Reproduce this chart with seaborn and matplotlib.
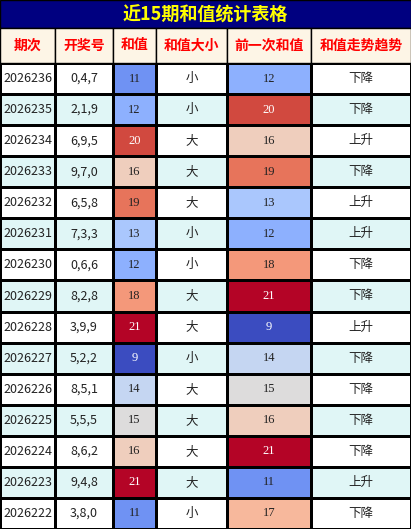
import matplotlib
matplotlib.use("Agg")
import matplotlib.pyplot as plt
import seaborn as sns
import numpy as np
import pandas as pd
from matplotlib.colors import ListedColormap
from matplotlib.patches import Rectangle

periods = ["2026236","2026235","2026234","2026233","2026232","2026231","2026230","2026229",
           "2026228","2026227","2026226","2026225","2026224","2026223","2026222"]
draws = ["0,4,7","2,1,9","6,9,5","9,7,0","6,5,8","7,3,3","0,6,6","8,2,8","3,9,9","5,2,2",
         "8,5,1","5,5,5","8,6,2","9,4,8","3,8,0"]
sums = [11,12,20,16,19,13,12,18,21,9,14,15,16,21,11]
sizes = ["小","小","大","大","大","小","小","大","大","小","大","大","大","大","小"]
prev_sums = [12,20,16,19,13,12,18,21,9,14,15,16,21,11,17]
trends = ["下降","下降","上升","下降","上升","上升","下降","下降","上升","下降","下降","下降","下降","上升","下降"]
headers = ["期次","开奖号","和值","和值大小","前一次和值","和值走势趋势"]
title = "近15期和值统计表格"

W, H = 411, 529
fig = plt.figure(figsize=(W/100, H/100), dpi=100)
cjk = ["Noto Sans CJK SC", "DejaVu Sans"]
edges = [0, 55, 113, 156, 227, 311, 411]
top_rows = 63
n = len(periods)
cols = [periods, draws, sums, sizes, prev_sums, trends]
parity = pd.DataFrame({"v": [i % 2 for i in range(n)]})
bg = ListedColormap(["white", "#E0F6F6"])

for ci in range(6):
    x0, x1 = edges[ci], edges[ci+1]
    ax = fig.add_axes([x0/W, 0, (x1-x0)/W, (H-top_rows)/H])
    sns.heatmap(parity, cmap=bg, cbar=False, ax=ax, vmin=0, vmax=1,
                linewidths=1, linecolor="black")
    if ci in (2, 4):
        vals = pd.DataFrame({"v": cols[ci]})
        sns.heatmap(vals, cmap="coolwarm", vmin=9, vmax=21, cbar=False, ax=ax,
                    linewidths=1, linecolor="black")
        cmap = plt.get_cmap("coolwarm")
        for r, v in enumerate(cols[ci]):
            c = cmap((v-9)/12)
            lum = 0.299*c[0]+0.587*c[1]+0.114*c[2]
            ax.text(0.5, r+0.5, str(v), ha="center", va="center", fontsize=9,
                    family="Liberation Serif", color="white" if lum < 0.5 else "#222222")
    else:
        for r, v in enumerate(cols[ci]):
            ax.text(0.5, r+0.5, str(v), ha="center", va="center", fontsize=9,
                    family=cjk, color="#222222")
    ax.set_xticks([]); ax.set_yticks([])
    ax.set_xlabel(""); ax.set_ylabel("")
    for s in ax.spines.values():
        s.set_visible(True); s.set_color("black"); s.set_linewidth(1)

# header row and title
hax = fig.add_axes([0, 0, 1, 1])
hax.set_xlim(0, W); hax.set_ylim(H, 0); hax.axis("off")
hax.add_patch(Rectangle((0, 0), W, 28, facecolor="#000080", edgecolor="black", lw=1))
hax.text(W/2, 15, title, ha="center", va="center", fontsize=13, fontweight="bold",
         color="#FFFF00", family=cjk)
for ci in range(6):
    x0, x1 = edges[ci], edges[ci+1]
    hax.add_patch(Rectangle((x0, 28), x1-x0, top_rows-28, facecolor="#FDF5E6",
                            edgecolor="black", lw=1))
    hax.text((x0+x1)/2, (28+top_rows)/2, headers[ci], ha="center", va="center",
             fontsize=10, fontweight="bold", color="#FF0000", family=cjk)

fig.savefig("out.png", dpi=100)
